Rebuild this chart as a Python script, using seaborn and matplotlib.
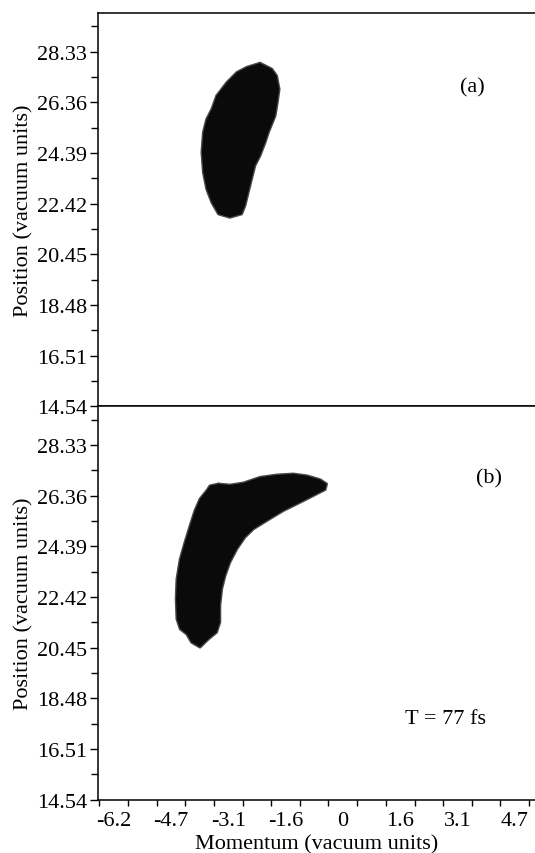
import numpy as np
import matplotlib
matplotlib.use("Agg")
import matplotlib.pyplot as plt
import seaborn as sns

# ---------------- data ----------------
x_tick_values = [-6.23, -4.67, -3.11, -1.56, 0.0, 1.56, 3.11, 4.67]
x_tick_labels = ["-6.2", "-4.7", "-3.1", "-1.6", "0", "1.6", "3.1", "4.7"]
x_minor_values = [-6.62, -5.84, -5.06, -4.28, -3.50, -2.72, -1.95, -1.17,
                  -0.39, 0.39, 1.17, 1.95, 2.72, 3.50, 4.28, 5.06]
y_tick_values = [14.54, 16.51, 18.48, 20.45, 22.42, 24.39, 26.36, 28.33]
y_tick_labels = ["14.54", "16.51", "18.48", "20.45", "22.42", "24.39", "26.36", "28.33"]
y_minor_values = [15.525, 17.495, 19.465, 21.435, 23.405, 25.375, 27.345, 29.315]

# panel (a) distribution outline (momentum, position)
blob_a_momentum = [-2.25, -1.93, -1.80, -1.73, -1.78, -1.84, -2.02, -2.11, -2.25,
                   -2.39, -2.48, -2.57, -2.66, -2.75, -3.07, -3.38, -3.56, -3.70,
                   -3.79, -3.83, -3.79, -3.70, -3.56, -3.43, -3.15, -2.88, -2.61]
blob_a_position = [27.89, 27.66, 27.40, 26.88, 26.36, 25.84, 25.20, 24.81, 24.29,
                   23.90, 23.38, 22.86, 22.34, 22.02, 21.89, 22.02, 22.47, 22.99,
                   23.64, 24.42, 25.20, 25.71, 26.10, 26.62, 27.14, 27.53, 27.73]

# panel (b) distribution outline (momentum, position)
blob_b_momentum = [-3.38, -3.07, -2.70, -2.25, -1.80, -1.35, -0.98, -0.62, -0.44,
                   -0.48, -0.62, -0.89, -1.25, -1.62, -2.07, -2.43, -2.66, -2.88,
                   -3.07, -3.20, -3.29, -3.34, -3.34, -3.43, -3.65, -3.88, -4.11,
                   -4.24, -4.42, -4.51, -4.53, -4.51, -4.42, -4.29, -4.15, -4.02,
                   -3.88, -3.70, -3.61]
blob_b_position = [26.82, 26.78, 26.86, 27.08, 27.17, 27.21, 27.14, 26.99, 26.82,
                   26.60, 26.50, 26.30, 26.04, 25.78, 25.39, 25.07, 24.75, 24.29,
                   23.77, 23.25, 22.74, 22.09, 21.44, 21.05, 20.79, 20.47, 20.66,
                   20.98, 21.18, 21.57, 22.35, 23.12, 23.90, 24.55, 25.20, 25.78,
                   26.24, 26.56, 26.75]

panel_labels = ["(a)", "(b)"]
time_label = "T = 77 fs"
x_label = "Momentum (vacuum units)"
y_label = "Position (vacuum units)"

# ---------------- style ----------------
sns.set_theme(style="ticks")
plt.rcParams["font.family"] = ["Liberation Serif", "DejaVu Serif"]
plt.rcParams["font.size"] = 16
plt.rcParams["axes.linewidth"] = 1.1

W, H = 535, 854
fig = plt.figure(figsize=(W / 100, H / 100), dpi=100)
fig.patch.set_facecolor("white")

left = 97.7 / W
top_a = 1 - 14 / H
mid = 1 - 407.3 / H
bot_b = 1 - 800.7 / H

ax_a = fig.add_axes([left, mid, 1.0 - left, top_a - mid])
ax_b = fig.add_axes([left, bot_b, 1.0 - left, mid - bot_b])

xlim = (-6.66, 5.22)
ylim = (14.54, 29.84)


def draw_blob(ax, xs, ys):
    xs_c = list(xs) + [xs[0]]
    ys_c = list(ys) + [ys[0]]
    ax.fill(xs_c, ys_c, color="#0a0a0a", lw=0, zorder=3)
    sns.lineplot(x=xs_c, y=ys_c, sort=False, estimator=None, ax=ax,
                 color="#4a4a4a", lw=2.0, zorder=2)


for ax in (ax_a, ax_b):
    ax.set_facecolor("white")
    ax.set_xlim(*xlim)
    ax.set_ylim(*ylim)
    ax.set_yticks(y_tick_values)
    ax.set_yticklabels(y_tick_labels)
    ax.set_yticks(y_minor_values, minor=True)
    ax.tick_params(axis="y", which="major", direction="out", length=6,
                   width=1.0, pad=1.5, labelsize=16, colors="black")
    ax.tick_params(axis="y", which="minor", direction="out", length=5,
                   width=1.0, colors="black")
    ax.spines["right"].set_visible(False)
    for s in ("left", "top", "bottom"):
        ax.spines[s].set_color("black")
    ax.set_ylabel(y_label, fontsize=16, labelpad=3, color="black")
    ax.grid(False)

# top panel: no x ticks
ax_a.set_xticks([])
ax_a.set_xticks([], minor=True)
ax_a.set_xlabel("")

# bottom panel x ticks: labels at majors (no marks), marks at minors
ax_b.set_xticks(x_tick_values)
ax_b.set_xticklabels(x_tick_labels)
ax_b.set_xticks(x_minor_values, minor=True)
ax_b.tick_params(axis="x", which="major", length=0, pad=8, labelsize=16,
                 colors="black")
ax_b.tick_params(axis="x", which="minor", direction="out", length=4.5,
                 width=1.0, colors="black")
ax_b.set_xlabel(x_label, fontsize=16, labelpad=3, color="black")

draw_blob(ax_a, blob_a_momentum, blob_a_position)
draw_blob(ax_b, blob_b_momentum, blob_b_position)

ax_a.text(3.53, 26.98, panel_labels[0], ha="center", va="center", fontsize=16,
          color="black")
ax_b.text(3.96, 27.05, panel_labels[1], ha="center", va="center", fontsize=16,
          color="black")
ax_b.text(2.80, 17.68, time_label, ha="center", va="center", fontsize=16,
          color="black")

fig.savefig("out.png", dpi=100, facecolor="white")
